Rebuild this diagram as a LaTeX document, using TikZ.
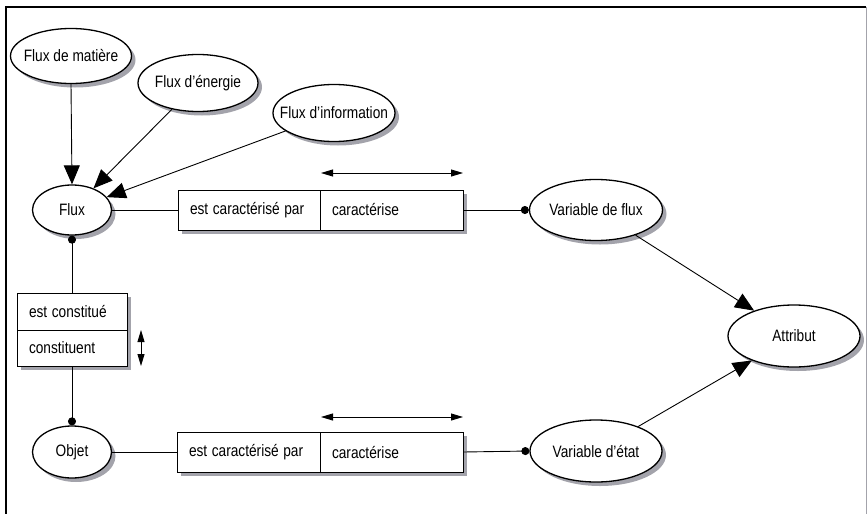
\documentclass[tikz,border=0pt]{standalone}
\usepackage{fontspec}
\setmainfont{Liberation Sans}
\usetikzlibrary{shapes.geometric,arrows.meta}
\definecolor{shadowtint}{rgb}{0.64,0.64,0.67}
\newcommand{\narrowtxt}[1]{\scalebox{0.83}[1]{#1}}
\begin{document}
\begin{tikzpicture}[x=1pt,y=-1pt,
  every node/.style={font=\fontsize{16.5}{18}\selectfont},
  ent/.style={ellipse,draw,line width=1.3pt,fill=white,inner xsep=-15pt,inner ysep=0pt},
  cell/.style={rectangle,draw,line width=0.9pt,fill=white,inner xsep=12pt,inner ysep=0pt,align=left},
  shadowc/.style={fill=shadowtint},
  link/.style={line width=0.9pt},
  big/.style={link,-{Triangle[length=19pt,width=16pt]}},
  dotend/.style={link,-{Circle[length=8pt]}},
  dotstart/.style={link,{Circle[length=8pt]}-},
  dual/.style={link,{Triangle[length=12pt,width=7pt]}-{Triangle[length=12pt,width=7pt]}},
  frame/.style={line width=1.5pt}
]
\useasboundingbox (0,0) rectangle (867,514);
% shadows (drawn first, behind the shapes)
\fill[shadowc] (75,60) ellipse [x radius=60.5, y radius=27.5];
\fill[shadowc] (202,87) ellipse [x radius=60, y radius=28.5];
\fill[shadowc] (338,117) ellipse [x radius=61, y radius=28.5];
\fill[shadowc] (76,214) ellipse [x radius=39.5, y radius=25];
\fill[shadowc] (600,214) ellipse [x radius=66.5, y radius=30.5];
\fill[shadowc] (798,340) ellipse [x radius=66, y radius=31];
\fill[shadowc] (600,455) ellipse [x radius=66, y radius=31];
\fill[shadowc] (76,456) ellipse [x radius=39.5, y radius=26];
\fill[shadowc] (182,194) rectangle (467,234);
\fill[shadowc] (181,436) rectangle (467,476);
\fill[shadowc] (21,297) rectangle (131,370);

% frame
\coordinate (ftl) at (6,7);
\coordinate (ftr) at (866,7);
\coordinate (fbl) at (6,514);
\coordinate (fbr) at (866,514);
\draw[frame] (ftr) -- (ftl) -- (fbl);
\draw[shadowtint,line width=1pt] (ftr) -- (fbr);

% entities
\node[ent,minimum width=121pt,minimum height=55pt] (FM) at (71,56) {\narrowtxt{Flux de matière}};
\node[ent,minimum width=120pt,minimum height=57pt] (FE) at (198,83) {\narrowtxt{Flux d'énergie}};
\node[ent,minimum width=122pt,minimum height=57pt] (FI) at (334,113) {\narrowtxt{Flux d'information}};
\node[ent,minimum width=79pt,minimum height=50pt] (Flux) at (72,210) {\narrowtxt{Flux}};
\node[ent,minimum width=133pt,minimum height=61pt] (VF) at (596,210) {\narrowtxt{Variable de flux}};
\node[ent,minimum width=132pt,minimum height=62pt] (Att) at (794,336) {\narrowtxt{Attribut}};
\node[ent,minimum width=132pt,minimum height=62pt] (VE) at (596,451) {\narrowtxt{Variable d'état}};
\node[ent,minimum width=79pt,minimum height=52pt] (Objet) at (72,452) {\narrowtxt{Objet}};

% relation boxes
\node[cell,text width=118pt,minimum height=40pt] (R1a) at (249,210) {\narrowtxt{est caractérisé par}};
\node[cell,text width=119pt,minimum height=40pt] (R1b) at (391.5,210) {\narrowtxt{caractérise}};
\node[cell,text width=119pt,minimum height=40pt] (R2a) at (248.5,452) {\narrowtxt{est caractérisé par}};
\node[cell,text width=119pt,minimum height=40pt] (R2b) at (391.5,452) {\narrowtxt{caractérise}};
\node[cell,text width=86pt,minimum height=37pt] (C1a) at (72,311.5) {\narrowtxt{est constitué}};
\node[cell,text width=86pt,minimum height=36pt] (C1b) at (72,348) {\narrowtxt{constituent}};

% reading-direction arrows
\coordinate (u1) at (321,173);
\coordinate (u2) at (463,173);
\coordinate (l1) at (321,417);
\coordinate (l2) at (463,417);
\coordinate (v1) at (141,330);
\coordinate (v2) at (141,366);
\draw[dual] (u1) -- (u2);
\draw[dual] (l1) -- (l2);
\draw[dual] (v1) -- (v2);

% connectors
\draw[big] (FM.south) -- (Flux.north);
\draw[big] (FE) -- (Flux);
\draw[big] (FI) -- (Flux);
\draw[big] (VF) -- (Att);
\draw[big] (VE) -- (Att);
\draw[link] (Flux.east) -- (R1a.west);
\draw[dotend] (R1b.east) -- (VF.west);
\draw[link] (Objet.east) -- (R2a.west);
\draw[dotend] (R2b.east) -- (VE.west);
\draw[dotstart] (Flux.south) -- (C1a.north);
\draw[dotend] (C1b.south) -- (Objet.north);
\end{tikzpicture}
\end{document}
